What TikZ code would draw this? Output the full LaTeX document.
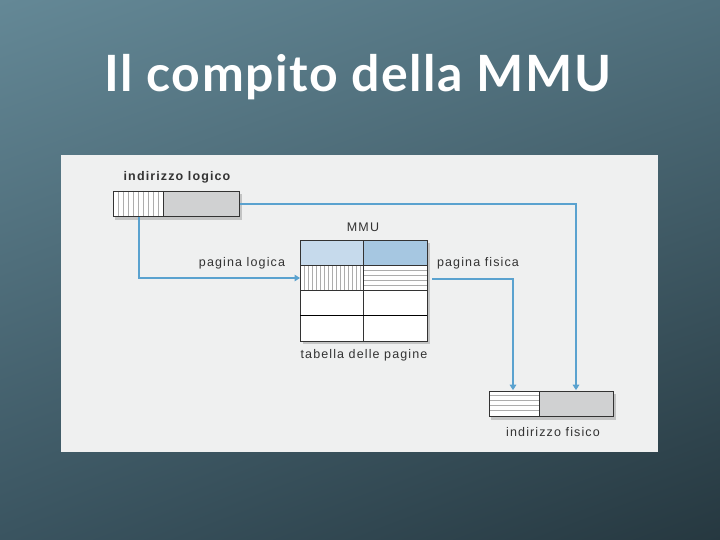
\documentclass[tikz,border=0pt]{standalone}
\usepackage{fontspec}
\setmainfont{Liberation Sans}[LetterSpace=9]
\newfontfamily\titlefont{Lato}[LetterSpace=3]
\usetikzlibrary{arrows.meta,shadings}
\definecolor{panel}{HTML}{EFF0F0}
\definecolor{boxgray}{HTML}{D0D1D2}
\definecolor{hdrL}{HTML}{C6DAEC}
\definecolor{hdrR}{HTML}{A6C7E1}
\definecolor{arrowblue}{HTML}{5AA2CF}
\definecolor{lbl}{HTML}{333333}
\definecolor{stripe}{HTML}{ADADAD}
\definecolor{bgUL}{RGB}{100,136,150}
\definecolor{bgUR}{RGB}{80,112,125}
\definecolor{bgLL}{RGB}{58,84,96}
\definecolor{bgLR}{RGB}{38,56,64}
\tikzset{
  lab/.style={font=\fontsize{12.5}{14}\selectfont, text=lbl, inner sep=0pt},
  frame/.style={draw=black!80, line width=0.8pt},
  conn/.style={draw=arrowblue, line width=1.6pt, -{Triangle[length=5.5pt,width=6.5pt]}},
  shadowbox/.style={fill=black, opacity=0.18},
}
\begin{document}
\begin{tikzpicture}[x=1pt,y=-1pt]
\path[use as bounding box] (0,0) rectangle (720,540);
\shade[upper left=bgUL, upper right=bgUR, lower left=bgLL, lower right=bgLR]
  (0,0) rectangle (720,540);
% title
\node (title) [text=white, font=\titlefont\bfseries\fontsize{50}{54}\selectfont] at (358,77) {Il compito della MMU};
% panel
\fill[panel] (61,155) rectangle (658,452);

% logical address
\fill[shadowbox] (115,194) rectangle (242,220);
\fill[white] (113,191) rectangle (163,216);
\foreach \x in {118,123,...,160} \draw[stripe, line width=0.4pt] (\x,191) -- (\x,216);
\fill[boxgray] (163,191) rectangle (239,216);
\draw[frame] (163,191) -- (163,216);
\node (la) [frame, minimum width=126pt, minimum height=25pt, inner sep=0pt, anchor=north west] at (113,191) {};
\node (lalab) [lab] at (177,177) {\bfseries indirizzo logico};

% page table
\fill[shadowbox] (303,243) rectangle (430,344);
\fill[hdrL] (300,240) rectangle (363,265);
\fill[hdrR] (363,240) rectangle (427,265);
\fill[white] (300,265) rectangle (427,341);
\foreach \x in {304,308,...,360} \draw[stripe, line width=0.4pt] (\x,265) -- (\x,290);
\foreach \y in {270,275,...,287} \draw[stripe, line width=0.4pt] (363,\y) -- (427,\y);
\node (pt) [frame, minimum width=127pt, minimum height=101pt, inner sep=0pt, anchor=north west] at (300,240) {};
\draw[frame] (363,240) -- (363,341);
\draw[frame] (300,265) -- (427,265);
\draw[frame] (300,290) -- (427,290);
\draw[draw=black, line width=1.6pt] (300,315.5) -- (427,315.5);
\coordinate (ptin) at (300,278);
\coordinate (ptout) at (432,279);
\node (mmu) [lab] at (363,227) {MMU};
\node (ptlab) [lab] at (364,355) {tabella delle pagine};

% physical address
\fill[shadowbox] (491,394) rectangle (616,420);
\fill[white] (489,391) rectangle (539,416);
\foreach \y in {395,400,...,413} \draw[stripe, line width=0.4pt] (489,\y) -- (539,\y);
\fill[boxgray] (539,391) rectangle (613,416);
\draw[frame] (539,391) -- (539,416);
\node (pa) [frame, minimum width=124pt, minimum height=25pt, inner sep=0pt, anchor=north west] at (489,391) {};
\node (palab) [lab] at (553,432) {indirizzo fisico};

% connectors
\coordinate (c1) at (139,216.6);
\draw[conn] (c1) |- (ptin);
\node (pl) [lab] at (242,263) {pagina logica};
\coordinate (c2) at (513,390.2);
\draw[conn] (ptout) -| (c2);
\node (pf) [lab] at (478,263) {pagina fisica};
\coordinate (c3) at (239.5,204);
\coordinate (c4) at (576,390.2);
\draw[conn] (c3) -| (c4);
\end{tikzpicture}
\end{document}
